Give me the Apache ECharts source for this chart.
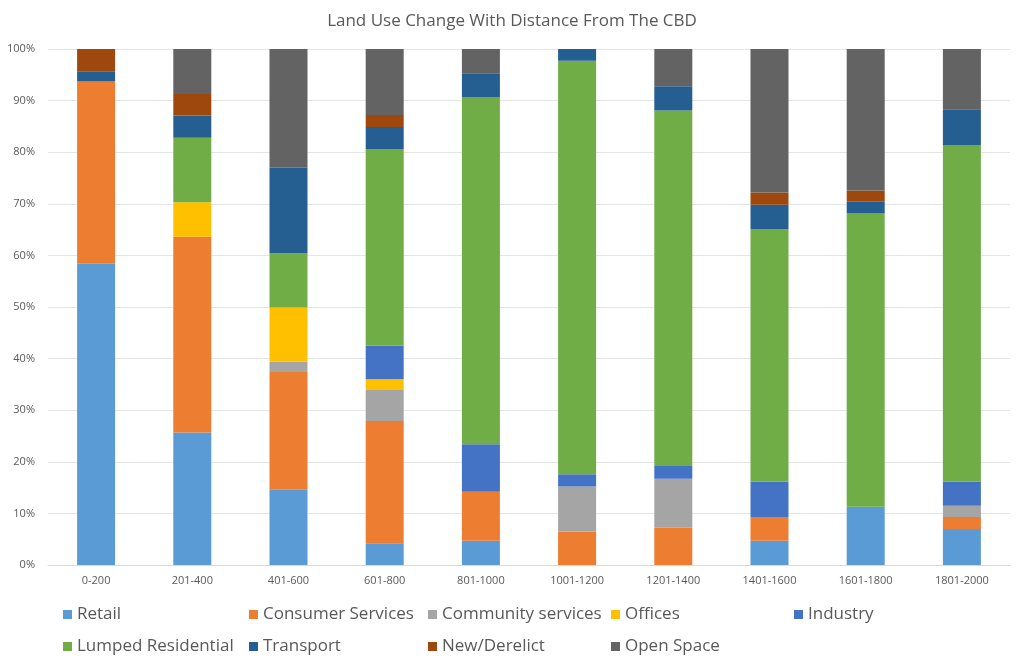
<!DOCTYPE html>
<html>
<head>
<meta charset="utf-8">
<script src="https://cdn.jsdelivr.net/npm/echarts@6/dist/echarts.min.js"></script>
<style>html,body{margin:0;padding:0;background:#fff}#c{width:1024px;height:662px}</style>
</head>
<body>
<div id="c"></div>
<script>
const categories = ['0-200','201-400','401-600','601-800','801-1000','1001-1200','1201-1400','1401-1600','1601-1800','1801-2000'];
const retail = [58.4, 25.7, 14.7, 4.2, 4.7, 0, 0, 4.7, 11.3, 7.0];
const consumerServices = [35.3, 37.9, 22.7, 23.7, 9.5, 6.5, 7.2, 4.6, 0, 2.3];
const communityServices = [0, 0, 2.0, 6.0, 0, 8.7, 9.5, 0, 0, 2.2];
const offices = [0, 6.7, 10.5, 2.1, 0, 0, 0, 0, 0, 0];
const industry = [0, 0, 0, 6.5, 9.2, 2.4, 2.5, 6.9, 0, 4.7];
const lumpedResidential = [0, 12.5, 10.5, 38.1, 67.2, 80.1, 68.9, 48.9, 56.8, 65.1];
const transport = [2.0, 4.3, 16.6, 4.3, 4.7, 2.3, 4.7, 4.7, 2.3, 7.0];
const newDerelict = [4.3, 4.2, 0, 2.3, 0, 0, 0, 2.4, 2.2, 0];
const openSpace = [0, 8.7, 23.0, 12.8, 4.7, 0, 7.2, 27.8, 27.4, 11.7];

const seriesNames = ['Retail','Consumer Services','Community services','Offices','Industry','Lumped Residential','Transport','New/Derelict','Open Space'];
const seriesData = [retail, consumerServices, communityServices, offices, industry, lumpedResidential, transport, newDerelict, openSpace];
const colors = ['#5B9BD5','#ED7D31','#A5A5A5','#FFC000','#4472C4','#70AD47','#255E91','#9E480E','#636363'];

const FONT = 'Open Sans';
const legendPos = [[63,606],[249,606],[428,606],[611,606],[794,606],[63,638],[249,638],[428,638],[611,638]];

const chart = echarts.init(document.getElementById('c'), null, {renderer:'canvas'});
chart.setOption({
  animation: false,
  color: colors,
  title: {
    text: 'Land Use Change With Distance From The CBD',
    left: 'center', top: 8,
    textStyle: {fontFamily: FONT, fontSize: 17, fontWeight: 'normal', color: '#595959'}
  },
  legend: seriesNames.map((n, i) => ({
    data: [n],
    left: legendPos[i][0], top: legendPos[i][1], padding: 0,
    icon: 'rect', itemWidth: 9, itemHeight: 9,
    textStyle: {fontFamily: FONT, fontSize: 17, color: '#595959'}
  })),
  grid: {left: 48, right: 14, top: 49, bottom: 97, containLabel: false},
  xAxis: {
    type: 'category', data: categories,
    axisLine: {lineStyle: {color: '#D9D9D9'}},
    axisTick: {show: false},
    axisLabel: {fontFamily: FONT, fontSize: 11, color: '#595959', margin: 10}
  },
  yAxis: {
    type: 'value', min: 0, max: 100, interval: 10,
    axisLabel: {formatter: '{value}%', fontFamily: FONT, fontSize: 11, color: '#595959', margin: 13},
    splitLine: {lineStyle: {color: '#E5E5E5'}},
    axisLine: {show: false}, axisTick: {show: false}
  },
  series: seriesNames.map((n, i) => ({
    name: n, type: 'bar', stack: 'total', barWidth: 38,
    data: seriesData[i]
  }))
});
</script>
</body>
</html>
